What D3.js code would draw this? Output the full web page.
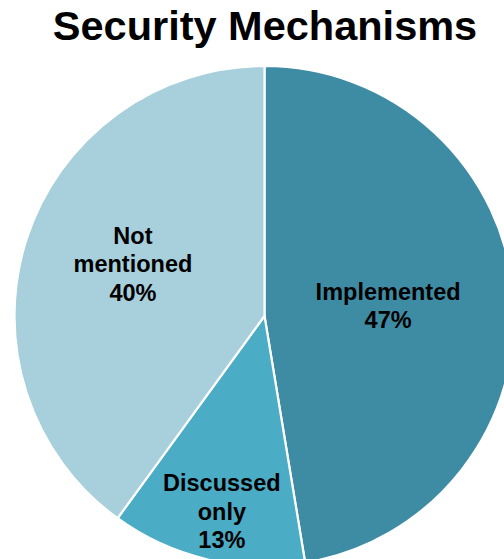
<!DOCTYPE html>
<html>
<head>
<meta charset="utf-8">
<script src="https://cdn.jsdelivr.net/npm/d3@7"></script>
<style>
  body { margin: 0; background: #fff; }
  svg { display: block; }
</style>
</head>
<body>
<div id="chart"></div>
<script>
// data
let categories = ["Implemented", "Discussed only", "Not mentioned"];
let shares = [47.4, 12.6, 40.0];
let pctLabels = ["47%", "13%", "40%"];
let labelLines = [["Implemented"], ["Discussed", "only"], ["Not", "mentioned"]];

let w = 504;
let h = 559;
let cx = 264.5;
let cy = 316;
let radius = 250;
// label placement: fraction of radius, and a small angle nudge (degrees)
let labelRad = [0.496, 0.8, 0.566];
let labelNudge = [0, -1, 3.6];

let colors = d3.scaleOrdinal()
  .domain(categories)
  .range(["#3e8ca4", "#4aacc5", "#a8cfdc"]);

let svg = d3.select("#chart")
  .append("svg")
    .attr("width", w)
    .attr("height", h);

svg.append("text")
  .text("Security Mechanisms")
  .attr("x", 265)
  .attr("y", 40)
  .attr("text-anchor", "middle")
  .attr("font-family", "'Liberation Sans', Arial, sans-serif")
  .attr("font-weight", "bold")
  .attr("font-size", "41.5px")
  .attr("fill", "#000");

let pieData = categories.map((c, i) => ({
  cat: c,
  value: shares[i],
  pct: pctLabels[i],
  lines: labelLines[i],
  lr: labelRad[i],
  ln: labelNudge[i]
}));

let pie = d3.pie().sort(null).value(d => d.value);
let arc = d3.arc().innerRadius(0).outerRadius(radius);

let g = svg.append("g").attr("transform", "translate(" + cx + "," + cy + ")");

let slices = g.selectAll(".slice").data(pie(pieData)).enter()
  .append("g").attr("class", "slice");

slices.append("path")
  .attr("d", arc)
  .attr("fill", d => colors(d.data.cat))
  .attr("stroke", "#fff")
  .attr("stroke-width", 2.2)
  .attr("stroke-linejoin", "round");

let lineH = 28.5;
slices.append("text")
  .attr("transform", d => {
    let a = (d.startAngle + d.endAngle) / 2 + d.data.ln * Math.PI / 180;
    let r = radius * d.data.lr;
    return "translate(" + (r * Math.sin(a)) + "," + (-r * Math.cos(a)) + ")";
  })
  .attr("text-anchor", "middle")
  .attr("font-family", "'Liberation Sans', Arial, sans-serif")
  .attr("font-weight", "bold")
  .attr("font-size", "23.5px")
  .attr("fill", "#000")
  .each(function(d) {
    let lines = d.data.lines.concat([d.data.pct]);
    let t = d3.select(this);
    let start = -(lines.length - 1) * lineH / 2;
    lines.forEach((l, i) => {
      t.append("tspan")
        .attr("x", 0)
        .attr("y", start + i * lineH)
        .attr("dy", "0.35em")
        .text(l);
    });
  });
</script>
</body>
</html>
